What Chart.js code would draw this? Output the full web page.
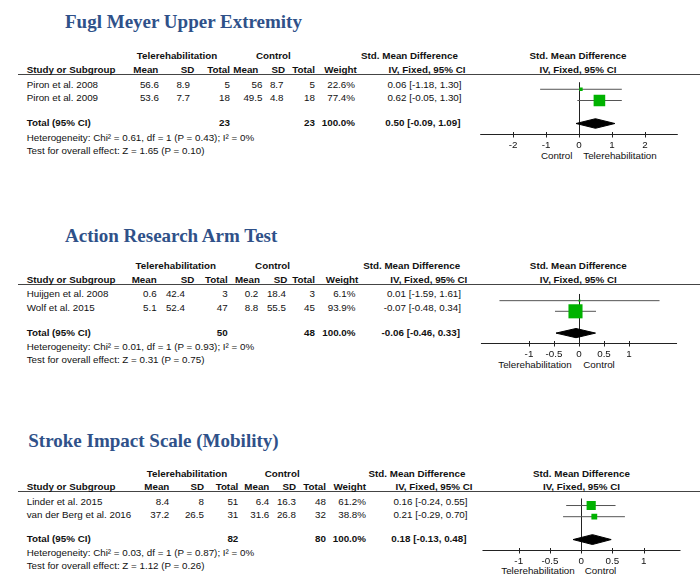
<!DOCTYPE html>
<html>
<head>
<meta charset="utf-8">
<script src="https://cdn.jsdelivr.net/npm/chart.js@4.4.0/dist/chart.umd.min.js"></script>
<style>
  body { margin: 0; background: #fff; width: 700px; height: 583px; position: relative; overflow: hidden;
         font-family: "Liberation Sans", Arial, sans-serif; }
  .t { position: absolute; white-space: nowrap; font-size: 9.8px; line-height: 9.8px; color: #111; }
  .b { font-weight: bold; }
  .title { position: absolute; white-space: nowrap; font-family: "Liberation Serif", serif; font-weight: bold;
           color: #2f5189; font-size: 19px; line-height: 19px; }
  .hl { position: absolute; left: 18px; width: 682px; height: 0; border-top: 1px solid #444; }
  canvas { position: absolute; }
</style>
</head>
<body>
<script>
// ---- Fugl Meyer Upper Extremity ----
const fmTitle = "Fugl Meyer Upper Extremity";
const fmStudies = ["Piron et al. 2008", "Piron et al. 2009"];
const fmTeleMean = ["56.6", "53.6"];
const fmTeleSD = ["8.9", "7.7"];
const fmTeleN = [5, 18];
const fmCtrlMean = ["56", "49.5"];
const fmCtrlSD = ["8.7", "4.8"];
const fmCtrlN = [5, 18];
const fmWeight = [22.6, 77.4];
const fmSMD = [0.06, 0.62];
const fmLow = [-1.18, -0.05];
const fmHigh = [1.30, 1.30];
const fmTotal = [0.50, -0.09, 1.09];
const fmHet = ["0.61", "1", "0.43", "0"];
const fmTest = ["1.65", "0.10"];
const fmTicks = [-2, -1, 0, 1, 2];
const fmSides = ["Control", "Telerehabilitation"];

// ---- Action Research Arm Test ----
const arTitle = "Action Research Arm Test";
const arStudies = ["Huijgen et al. 2008", "Wolf et al. 2015"];
const arTeleMean = ["0.6", "5.1"];
const arTeleSD = ["42.4", "52.4"];
const arTeleN = [3, 47];
const arCtrlMean = ["0.2", "8.8"];
const arCtrlSD = ["18.4", "55.5"];
const arCtrlN = [3, 45];
const arWeight = [6.1, 93.9];
const arSMD = [0.01, -0.07];
const arLow = [-1.59, -0.48];
const arHigh = [1.61, 0.34];
const arTotal = [-0.06, -0.46, 0.33];
const arHet = ["0.01", "1", "0.93", "0"];
const arTest = ["0.31", "0.75"];
const arTicks = [-1, -0.5, 0, 0.5, 1];
const arSides = ["Telerehabilitation", "Control"];

// ---- Stroke Impact Scale (Mobility) ----
const siTitle = "Stroke Impact Scale (Mobility)";
const siStudies = ["Linder et al. 2015", "van der Berg et al. 2016"];
const siTeleMean = ["8.4", "37.2"];
const siTeleSD = ["8", "26.5"];
const siTeleN = [51, 31];
const siCtrlMean = ["6.4", "31.6"];
const siCtrlSD = ["16.3", "26.8"];
const siCtrlN = [48, 32];
const siWeight = [61.2, 38.8];
const siSMD = [0.16, 0.21];
const siLow = [-0.24, -0.29];
const siHigh = [0.55, 0.70];
const siTotal = [0.18, -0.13, 0.48];
const siHet = ["0.03", "1", "0.87", "0"];
const siTest = ["1.12", "0.26"];
const siTicks = [-1, -0.5, 0, 0.5, 1];
const siSides = ["Telerehabilitation", "Control"];

const green = "rgb(0,178,0)";
const sum = a => a.reduce((s, v) => s + v, 0);
const f2 = v => v.toFixed(2);
const ciText = (e, l, h) => f2(e) + " [" + f2(l) + ", " + f2(h) + "]";

function txt(s, x, base, align, bold) {
  const d = document.createElement("div");
  d.className = "t" + (bold ? " b" : "");
  d.textContent = s;
  d.style.top = (base - 8.3) + "px";
  if (align === "left") d.style.left = x + "px";
  else if (align === "right") d.style.right = (700 - x) + "px";
  else { d.style.left = x + "px"; d.style.transform = "translateX(-50%)"; }
  document.body.appendChild(d);
}

// axis line with ticks crossing it, as RevMan draws them
const forestAxis = {
  id: "forestAxis",
  afterDraw(chart) {
    const { ctx, chartArea, scales: { x } } = chart;
    const yb = Math.round(chartArea.bottom) - 0.5;
    ctx.save();
    ctx.strokeStyle = "#222";
    ctx.lineWidth = 1;
    ctx.beginPath();
    ctx.moveTo(chartArea.left, yb);
    ctx.lineTo(chartArea.right, yb);
    x.ticks.forEach(t => {
      const px = Math.round(x.getPixelForValue(t.value)) + 0.5;
      ctx.moveTo(px, yb - 2.5);
      ctx.lineTo(px, yb + 3);
    });
    ctx.stroke();
    ctx.restore();
  }
};

const panels = [
  { title: fmTitle, studies: fmStudies, tm: fmTeleMean, ts: fmTeleSD, tn: fmTeleN, cm: fmCtrlMean, cs: fmCtrlSD, cn: fmCtrlN,
    w: fmWeight, smd: fmSMD, lo: fmLow, hi: fmHigh, tot: fmTotal, het: fmHet, test: fmTest, ticks: fmTicks, sides: fmSides,
    L: 74.3, k: 1.015, titleBase: 28.3, titleLeft: 65,
    hcols: [158.3, 194.3, 230, 258.3, 285, 315, 356.7], vcols: [159, 190, 230, 262.5, 283.5, 315, 355],
    teleC: 177, ctrlC: 273.3, smdC: 409.5, ivC: 427, ciR: 461.5, plotC: 578,
    zero: 578.7, unit: 35.7, min: -3, max: 3, sideX: [556.7, 620] },
  { title: arTitle, studies: arStudies, tm: arTeleMean, ts: arTeleSD, tn: arTeleN, cm: arCtrlMean, cs: arCtrlSD, cn: arCtrlN,
    w: arWeight, smd: arSMD, lo: arLow, hi: arHigh, tot: arTotal, het: arHet, test: arTest, ticks: arTicks, sides: arSides,
    L: 284.3, k: 1, titleBase: 241.7, titleLeft: 65,
    hcols: [156.7, 194.3, 227.7, 260, 287.3, 315, 358.3], vcols: [156.7, 185, 227.7, 258.3, 286, 315, 355.5],
    teleC: 175.8, ctrlC: 272.5, smdC: 411.7, ivC: 428.8, ciR: 461, plotC: 578.3,
    zero: 579.3, unit: 55, min: -1.96, max: 1.96, sideX: [535, 599] },
  { title: siTitle, studies: siStudies, tm: siTeleMean, ts: siTeleSD, tn: siTeleN, cm: siCtrlMean, cs: siCtrlSD, cn: siCtrlN,
    w: siWeight, smd: siSMD, lo: siLow, hi: siHigh, tot: siTotal, het: siHet, test: siTest, ticks: siTicks, sides: siSides,
    L: 491.7, k: 0.98, titleBase: 447.3, titleLeft: 28.3,
    hcols: [169.3, 204, 238.3, 269.3, 296, 326, 366], vcols: [169.3, 204, 238.3, 269.3, 296, 326, 366],
    teleC: 187, ctrlC: 282.2, smdC: 417, ivC: 434, ciR: 467.5, plotC: 581.5,
    zero: 580.7, unit: 66.5, min: -1.58, max: 1.59, sideX: [538, 600.5] }
];

// vertical offsets below the header rule
const off = { tele: -15, study: -1, rows: [13.4, 26.7], total: 51.7, het: 66.4, test: 79,
              axis: 59.7, marks: [8, 20.7], diamond: 46.7, side: 84 };

panels.forEach(p => {
  const y = v => p.L + v * p.k;

  const t = document.createElement("div");
  t.className = "title";
  t.textContent = p.title;
  t.style.left = p.titleLeft + "px";
  t.style.top = (p.titleBase - 15.9) + "px";
  document.body.appendChild(t);

  const hl = document.createElement("div");
  hl.className = "hl";
  hl.style.top = Math.round(p.L - 0.5) + "px";
  document.body.appendChild(hl);

  txt("Telerehabilitation", p.teleC, y(off.tele), "center", true);
  txt("Control", p.ctrlC, y(off.tele), "center", true);
  txt("Std. Mean Difference", p.smdC, y(off.tele), "center", true);
  txt("Std. Mean Difference", p.plotC, y(off.tele), "center", true);
  txt("Study or Subgroup", 26.7, y(off.study), "left", true);
  ["Mean", "SD", "Total", "Mean", "SD", "Total", "Weight"].forEach((h, i) =>
    txt(h, p.hcols[i], y(off.study), "right", true));
  txt("IV, Fixed, 95% CI", p.ivC, y(off.study), "center", true);
  txt("IV, Fixed, 95% CI", p.plotC, y(off.study), "center", true);

  p.studies.forEach((s, i) => {
    const b = y(off.rows[i]);
    txt(s, 26.7, b, "left");
    [p.tm[i], p.ts[i], p.tn[i], p.cm[i], p.cs[i], p.cn[i], p.w[i].toFixed(1) + "%"].forEach((v, j) =>
      txt(String(v), p.vcols[j], b, "right"));
    txt(ciText(p.smd[i], p.lo[i], p.hi[i]), p.ciR, b, "right");
  });

  const tb = y(off.total);
  txt("Total (95% CI)", 26.7, tb, "left", true);
  txt(String(sum(p.tn)), p.vcols[2], tb, "right", true);
  txt(String(sum(p.cn)), p.vcols[5], tb, "right", true);
  txt(sum(p.w).toFixed(1) + "%", p.vcols[6], tb, "right", true);
  txt(ciText(p.tot[0], p.tot[1], p.tot[2]), p.ciR - 1, tb, "right", true);
  txt("Heterogeneity: Chi\u00b2 = " + p.het[0] + ", df = " + p.het[1] + " (P = " + p.het[2] + "); I\u00b2 = " + p.het[3] + "%",
      26.7, y(off.het), "left");
  txt("Test for overall effect: Z = " + p.test[0] + " (P = " + p.test[1] + ")", 26.7, y(off.test), "left");
  txt(p.sides[0], p.sideX[0], y(off.side), "center");
  txt(p.sides[1], p.sideX[1], y(off.side), "center");

  // forest plot
  const axisH = off.axis * p.k;
  const left = p.zero + p.min * p.unit;
  const width = (p.max - p.min) * p.unit;
  const cv = document.createElement("canvas");
  cv.width = Math.round(width);
  cv.height = Math.round(axisH + 30);
  cv.style.left = Math.round(left) + "px";
  cv.style.top = Math.round(p.L) + "px";
  document.body.appendChild(cv);

  const datasets = [];
  p.studies.forEach((s, i) => {
    const ry = off.marks[i] * p.k;
    datasets.push({ data: [{ x: p.smd[i], y: ry }], pointStyle: "rect",
      pointRadius: Math.max(1.4, p.w[i] * 0.106), backgroundColor: green, borderWidth: 0, order: 0 });
    datasets.push({ data: [{ x: p.lo[i], y: ry }, { x: p.hi[i], y: ry }], showLine: true,
      borderColor: "#555", borderWidth: 1, pointRadius: 0, order: 1 });
  });
  const dy = off.diamond * p.k, dh = 5.5;
  datasets.push({
    data: [{ x: p.tot[1], y: dy }, { x: p.tot[0], y: dy - dh }, { x: p.tot[2], y: dy },
           { x: p.tot[0], y: dy + dh }, { x: p.tot[1], y: dy }],
    showLine: true, fill: "shape", backgroundColor: "#000", borderColor: "#000", borderWidth: 1,
    pointRadius: 0, tension: 0, order: 0
  });

  new Chart(cv, {
    type: "scatter",
    data: { datasets },
    plugins: [forestAxis],
    options: {
      responsive: false,
      animation: false,
      events: [],
      layout: { padding: 0 },
      plugins: { legend: { display: false }, tooltip: { enabled: false } },
      scales: {
        x: {
          type: "linear", min: p.min, max: p.max, position: "bottom",
          afterBuildTicks: sc => { sc.ticks = p.ticks.map(v => ({ value: v })); },
          afterFit: sc => { sc.height = 30; },
          border: { display: false },
          grid: {
            color: c => (c.tick && c.tick.value === 0 ? "#222" : "rgba(0,0,0,0)"),
            drawTicks: false, lineWidth: 1
          },
          ticks: { color: "#111", font: { family: "Liberation Sans", size: 9.8 }, padding: 4,
                   maxRotation: 0, autoSkip: false, callback: v => String(v) }
        },
        y: { type: "linear", display: false, min: 0, max: axisH, reverse: true }
      }
    }
  });
});
</script>
</body>
</html>
